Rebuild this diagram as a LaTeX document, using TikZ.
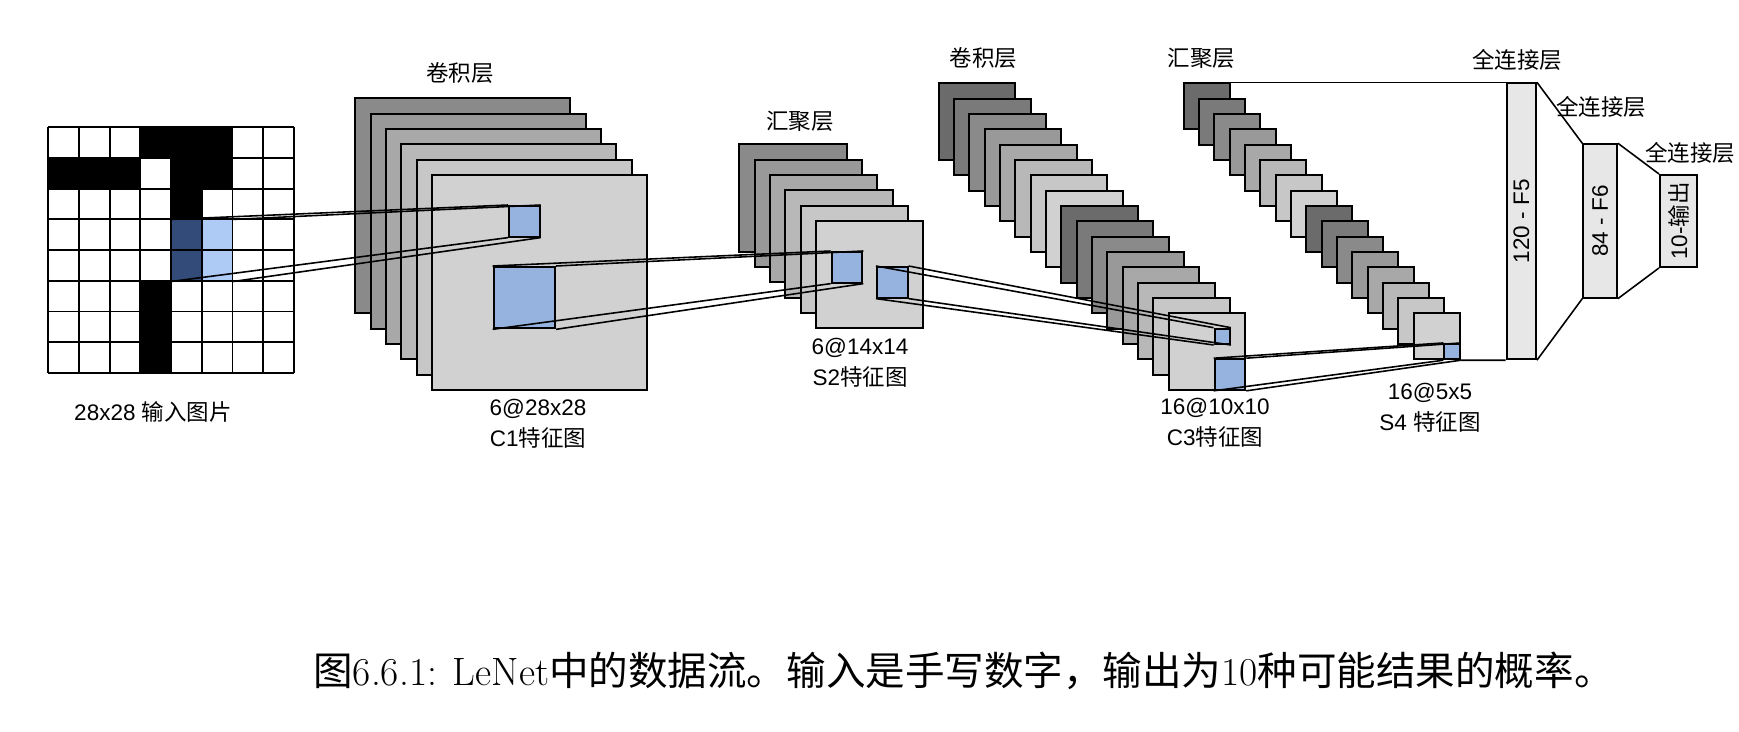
\documentclass[tikz,border=0pt]{standalone}
\usepackage{fontspec}
\usepackage{graphicx}
\setsansfont{Liberation Sans}
\newfontfamily\cjk{Noto Sans CJK SC}
\newcommand\zh[1]{{\cjk #1}}
\definecolor{mapBlue}{RGB}{149,179,222}
\definecolor{winLight}{RGB}{174,203,246}
\definecolor{winDark}{RGB}{50,75,120}
\definecolor{fcFill}{RGB}{231,231,231}
\tikzset{
  fmap/.style={draw=black, line width=1.1pt, fill=#1, inner sep=0pt, anchor=north west},
  rfield/.style={draw=black, line width=1.1pt, fill=mapBlue, inner sep=0pt, anchor=north west},
  fcbox/.style={draw=black, line width=1.1pt, fill=fcFill, inner sep=0pt, anchor=north west,
                font=\sffamily\fontsize{12.8}{15}\selectfont},
  link/.style={line width=0.9pt},
  lbl/.style={font=\sffamily\fontsize{12.8}{17.5}\selectfont, align=center, inner sep=0pt},
}

\begin{document}
\begin{tikzpicture}[x=1cm,y=1cm]
\useasboundingbox (0,0) rectangle (34.78,-14.64);
% input image
\begin{scope}[shift={(0.966,-7.458)}, x=0.614cm, y=0.614cm]
  \foreach \px/\py in {3/0,4/0,5/0,0/1,1/1,2/1,4/1,5/1,4/2,3/5,3/6,3/7}
    \fill (\px,7-\py) rectangle ++(1,1);
  \fill[winDark] (4,3) rectangle (5,5);
  \fill[winLight] (5,3) rectangle (6,5);
  \draw[line width=1.1pt, step=1] (0,0) grid (8,8);
  \node[inner sep=0pt, minimum size=1.228cm, anchor=north west] (win) at (4,5) {};
\end{scope}
% C1 feature maps
\foreach \i/\s in {0/46,1/40,2/34,3/28,4/22,5/18}
  \node[fmap=black!\s, minimum size=4.3cm] (c1-\i) at ({7.086+0.3067*\i},{-1.946-0.3067*\i}) {};
\node[rfield, minimum size=0.614cm] (c1in) at (10.16,-4.10) {};
\node[rfield, minimum size=1.228cm] (c1out) at (9.854,-5.32) {};
% S2 feature maps
\foreach \i/\s in {0/46,1/40,2/34,3/28,4/22,5/18}
  \node[fmap=black!\s, minimum size=2.148cm] (s2-\i) at ({14.766+0.3067*\i},{-2.866-0.3067*\i}) {};
\node[rfield, minimum size=0.614cm] (s2in) at (16.614,-5.02) {};
\node[rfield, minimum size=0.614cm] (s2out) at (17.52,-5.32) {};
% C3 feature maps
\foreach \i in {0,...,15}{
  \pgfmathtruncatemacro\s{{58,52,46,40,34,28,22,18}[mod(\i,8)]}
  \node[fmap=black!\s, minimum size=1.532cm] (c3-\i) at ({18.754+0.3067*\i},{-1.646-0.3067*\i}) {};
}
\node[rfield, minimum size=0.307cm] (c3in) at (24.272,-6.554) {};
\node[rfield, minimum size=0.614cm] (c3out) at (24.272,-7.164) {};
% S4 feature maps
\foreach \i in {0,...,15}{
  \pgfmathtruncatemacro\s{{58,52,46,40,34,28,22,18}[mod(\i,8)]}
  \node[fmap=black!\s, minimum size=0.92cm] (s4-\i) at ({23.654+0.3067*\i},{-1.646-0.3067*\i}) {};
}
\node[rfield, minimum size=0.307cm] (s4in) at (28.867,-6.859) {};
% fully connected
\node[fcbox, minimum width=0.586cm, minimum height=5.52cm] (f5) at (30.114,-1.646) {\rotatebox{90}{120 - F5}};
\node[fcbox, minimum width=0.674cm, minimum height=3.068cm] (f6) at (31.646,-2.866) {\rotatebox{90}{84 - F6}};
\node[fcbox, minimum width=0.74cm, minimum height=1.84cm] (out) at (33.18,-3.48) {\rotatebox{90}{10-\zh{输出}}};
% receptive field links
\foreach \a in {north west,north east,south west,south east}{
  \draw[link] (win.\a) -- (c1in.\a);
  \draw[link] (c1out.\a) -- (s2in.\a);
  \draw[link] (s2out.\a) -- (c3in.\a);
  \draw[link] (c3out.\a) -- (s4in.\a);
}
\draw[link] (s4-0.north east) -- (f5.north west);
\draw[link] (s4-15.south east) -- (f5.south west);
\draw[link] (f5.north east) -- (f6.north west);
\draw[link] (f5.south east) -- (f6.south west);
\draw[link] (f6.north east) -- (out.north west);
\draw[link] (f6.south east) -- (out.south west);
% labels
\node[lbl] (inLbl) at (3.06,-8.24) {28x28 \zh{输入图片}};
\node[lbl] (c1Top) at (9.2,-1.46) {\zh{卷积层}};
\node[lbl] (c1Lbl) at (10.76,-8.48) {6@28x28\\C1\zh{特征图}};
\node[lbl] (s2Top) at (16.0,-2.434) {\zh{汇聚层}};
\node[lbl] (s2Lbl) at (17.2,-7.26) {6@14x14\\S2\zh{特征图}};
\node[lbl] (c3Top) at (19.666,-1.166) {\zh{卷积层}};
\node[lbl] (c3Lbl) at (24.3,-8.46) {16@10x10\\C3\zh{特征图}};
\node[lbl] (s4Top) at (24.034,-1.166) {\zh{汇聚层}};
\node[lbl] (s4Lbl) at (28.6,-8.15) {16@5x5\\S4 \zh{特征图}};
\node[lbl] (f5Top) at (30.346,-1.2) {\zh{全连接层}};
\node[lbl] (f6Top) at (32.02,-2.146) {\zh{全连接层}};
\node[lbl] (outTop) at (33.8,-3.066) {\zh{全连接层}};
% caption
\node[font=\fontsize{22.5}{26}\selectfont, inner sep=0pt] (caption) at (19.27,-13.42)
  {\zh{图}6.6.1: LeNet\zh{中的数据流。输入是手写数字，输出为}10\zh{种可能结果的概率。}};
\end{tikzpicture}
\end{document}
